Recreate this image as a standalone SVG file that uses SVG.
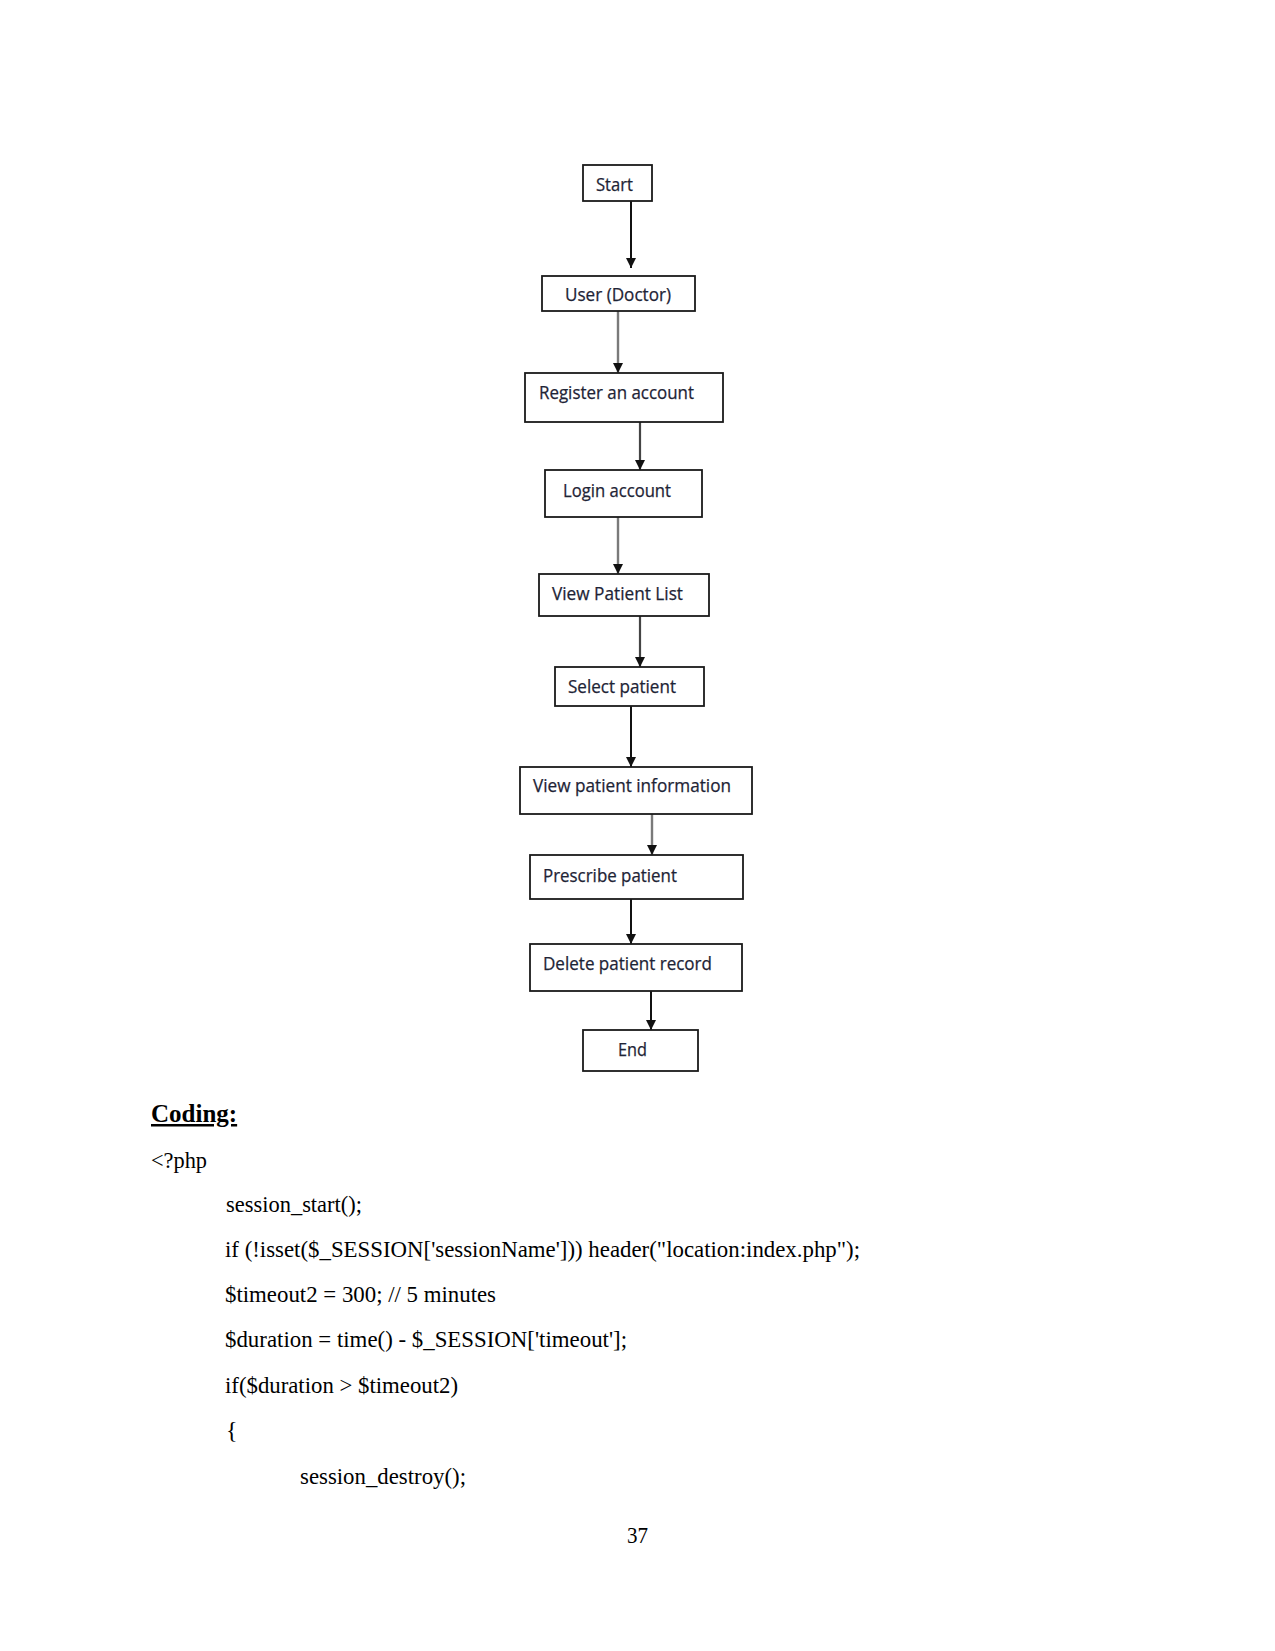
<svg xmlns="http://www.w3.org/2000/svg" width="1275" height="1651" viewBox="0 0 1275 1651">
<style>
.box{fill:#ffffff;stroke:#1a1a1a;stroke-width:1.8}
.lbl{font-family:"Open Sans","Noto Sans","Liberation Sans",sans-serif;font-size:18px;fill:#1e2436;stroke:#1e2436;stroke-width:0.25}
.c{stroke-width:2;fill:none}
.k{stroke:#111111}
.g{stroke:#7a7a7a;stroke-width:2.4}
.d{stroke:#444444;stroke-width:2.2}
.code{font-family:"Liberation Serif","Times New Roman",serif;font-size:24px;fill:#000000}
.head{font-family:"Liberation Serif","Times New Roman",serif;font-size:25px;font-weight:bold;fill:#000000;text-decoration:underline}
</style>
<defs>
<marker id="arr" markerUnits="userSpaceOnUse" markerWidth="10" markerHeight="10" refX="10" refY="5" orient="auto">
<path d="M0,0 L10,5 L0,10 Z" fill="#111111"/>
</marker>
</defs>
<rect width="1275" height="1651" fill="#ffffff"/>

<g id="connectors">
<line class="c k" x1="631" y1="201" x2="631" y2="268" marker-end="url(#arr)"/>
<line class="c g" x1="618" y1="311" x2="618" y2="373" marker-end="url(#arr)"/>
<line class="c d" x1="640" y1="422" x2="640" y2="470" marker-end="url(#arr)"/>
<line class="c g" x1="618" y1="517" x2="618" y2="574" marker-end="url(#arr)"/>
<line class="c d" x1="640" y1="616" x2="640" y2="667" marker-end="url(#arr)"/>
<line class="c k" x1="631" y1="706" x2="631" y2="767" marker-end="url(#arr)"/>
<line class="c g" x1="652" y1="814" x2="652" y2="855" marker-end="url(#arr)"/>
<line class="c k" x1="631" y1="899" x2="631" y2="944" marker-end="url(#arr)"/>
<line class="c k" x1="651" y1="991" x2="651" y2="1030" marker-end="url(#arr)"/>
</g>

<g id="n-start"><rect class="box" x="583" y="165" width="69" height="36"/><text class="lbl" x="596" y="191" textLength="37" lengthAdjust="spacingAndGlyphs">Start</text></g>
<g id="n-user"><rect class="box" x="542" y="276" width="153" height="35"/><text class="lbl" x="565" y="301" textLength="106" lengthAdjust="spacingAndGlyphs">User (Doctor)</text></g>
<g id="n-register"><rect class="box" x="525" y="373" width="198" height="49"/><text class="lbl" x="539" y="399" textLength="155" lengthAdjust="spacingAndGlyphs">Register an account</text></g>
<g id="n-login"><rect class="box" x="545" y="470" width="157" height="47"/><text class="lbl" x="563" y="497" textLength="108" lengthAdjust="spacingAndGlyphs">Login account</text></g>
<g id="n-viewlist"><rect class="box" x="539" y="574" width="170" height="42"/><text class="lbl" x="552" y="600" textLength="131" lengthAdjust="spacingAndGlyphs">View Patient List</text></g>
<g id="n-select"><rect class="box" x="555" y="667" width="149" height="39"/><text class="lbl" x="568" y="693" textLength="108" lengthAdjust="spacingAndGlyphs">Select patient</text></g>
<g id="n-viewinfo"><rect class="box" x="520" y="767" width="232" height="47"/><text class="lbl" x="533" y="792" textLength="198" lengthAdjust="spacingAndGlyphs">View patient information</text></g>
<g id="n-prescribe"><rect class="box" x="530" y="855" width="213" height="44"/><text class="lbl" x="543" y="882" textLength="134" lengthAdjust="spacingAndGlyphs">Prescribe patient</text></g>
<g id="n-delete"><rect class="box" x="530" y="944" width="212" height="47"/><text class="lbl" x="543" y="970" textLength="169" lengthAdjust="spacingAndGlyphs">Delete patient record</text></g>
<g id="n-end"><rect class="box" x="583" y="1030" width="115" height="41"/><text class="lbl" x="618" y="1056" textLength="29" lengthAdjust="spacingAndGlyphs">End</text></g>

<g id="coding">
<text class="head" x="151" y="1122">Coding:</text>
<text class="code" x="151" y="1168" textLength="56" lengthAdjust="spacingAndGlyphs">&lt;?php</text>
<text class="code" x="226" y="1212" textLength="136" lengthAdjust="spacingAndGlyphs">session_start();</text>
<text class="code" x="225" y="1257" textLength="635" lengthAdjust="spacingAndGlyphs">if (!isset($_SESSION['sessionName'])) header("location:index.php");</text>
<text class="code" x="225" y="1302" textLength="271" lengthAdjust="spacingAndGlyphs">$timeout2 = 300; // 5 minutes</text>
<text class="code" x="225" y="1347" textLength="402" lengthAdjust="spacingAndGlyphs">$duration = time() - $_SESSION['timeout'];</text>
<text class="code" x="225" y="1393" textLength="233" lengthAdjust="spacingAndGlyphs">if($duration &gt; $timeout2)</text>
<text class="code" x="226" y="1438">{</text>
<text class="code" x="300" y="1484" textLength="166" lengthAdjust="spacingAndGlyphs">session_destroy();</text>
<text class="code" x="627" y="1543" textLength="21" lengthAdjust="spacingAndGlyphs">37</text>
</g>
</svg>
